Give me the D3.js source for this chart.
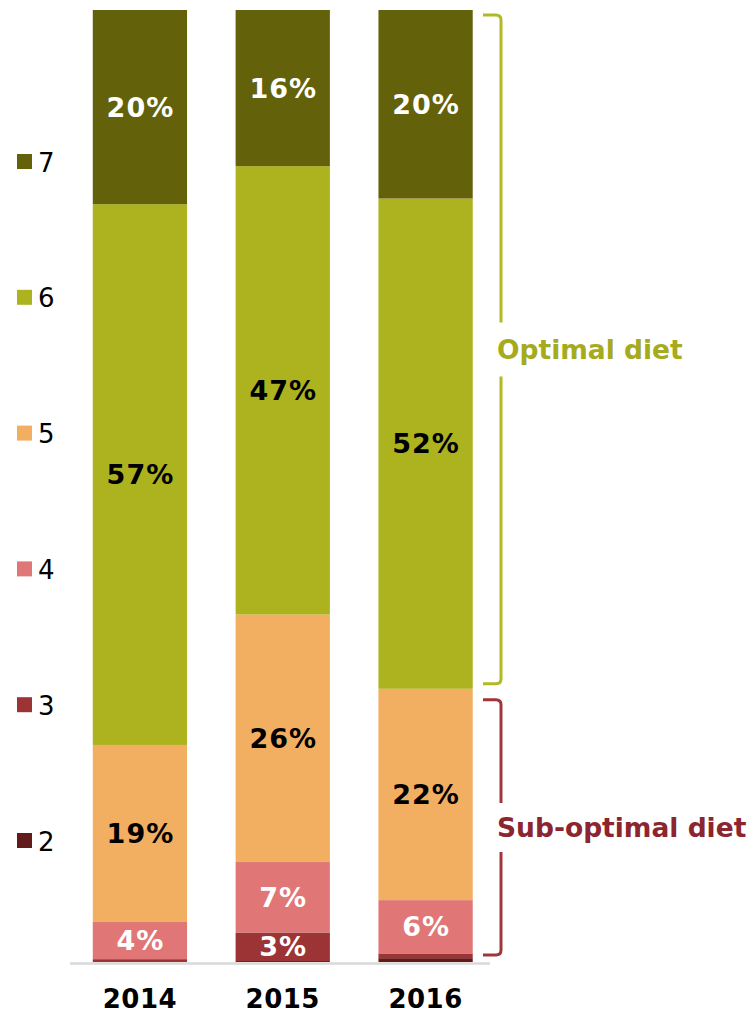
<!DOCTYPE html>
<html>
<head>
<meta charset="utf-8">
<script src="https://cdn.jsdelivr.net/npm/d3@7/dist/d3.min.js"></script>
<style>
  body { margin: 0; background: #fff; }
  svg { display: block; font-family: Verdana, "DejaVu Sans", sans-serif; }
</style>
</head>
<body>
<svg width="750" height="1014"></svg>
<script>
var years = ["2014", "2015", "2016"];
var levels = ["2", "3", "4", "5", "6", "7"];   // bottom to top
var colors = ["#621b1b", "#9c3335", "#e07676", "#f2ae61", "#adb31e", "#636109"];
var labelColors = ["#fff", "#fff", "#fff", "#000", "#000", "#fff"];

// share (%) of each level per year, order follows levels
var values2014 = [0.0, 0.3, 3.9, 18.6, 56.8, 20.4];
var values2015 = [0.1, 3.0, 7.4, 26.0, 47.1, 16.4];
var values2016 = [0.4, 0.5, 5.6, 22.2, 51.5, 19.8];
var valuesByYear = [values2014, values2015, values2016];

var groups = [
  {name: "Optimal diet", from: "6", to: "7", color: "#b3b924", text: "#a5ab1d"},
  {name: "Sub-optimal diet", from: "2", to: "5", color: "#a0363a", text: "#8b2530"}
];

var svg = d3.select("svg");

var x = d3.scaleBand().domain(years).range([68.5, 497]).paddingInner(0.34).paddingOuter(0.17);
var y = d3.scaleLinear().domain([0, 100]).range([962, 10]);
var legendY = d3.scalePoint().domain(levels.slice().reverse()).range([161.5, 840.5]);

// stack the data
var rows = years.map(function(yr, i) {
  var r = {year: yr};
  levels.forEach(function(l, j) { r[l] = valuesByYear[i][j]; });
  return r;
});
var series = d3.stack().keys(levels)(rows);

// axis line
svg.append("line")
    .attr("x1", 70).attr("x2", 490)
    .attr("y1", y(0) + 1.5).attr("y2", y(0) + 1.5)
    .attr("stroke", "#d9d9d9")
    .attr("stroke-width", 2.5);

var layer = svg.selectAll(".layer")
  .data(series)
  .enter().append("g")
    .attr("class", "layer")
    .attr("fill", function(d, i) { return colors[i]; });

layer.selectAll("rect")
  .data(function(d) { return d; })
  .enter().append("rect")
    .attr("x", function(d) { return x(d.data.year); })
    .attr("width", x.bandwidth())
    .attr("y", function(d) { return y(d[1]); })
    .attr("height", function(d) { return y(d[0]) - y(d[1]); });

// percent labels
layer.each(function(s, i) {
  d3.select(this).selectAll("text")
    .data(s.filter(function(d) { return d[1] - d[0] >= 2; }))
    .enter().append("text")
      .attr("x", function(d) { return x(d.data.year) + x.bandwidth() / 2 + 0.5; })
      .attr("y", function(d) { return (y(d[0]) + y(d[1])) / 2; })
      .attr("dy", "0.36em")
      .attr("text-anchor", "middle")
      .attr("fill", labelColors[i])
      .style("font-size", "27px")
      .style("font-weight", "bold")
      .style("letter-spacing", "1px")
      .text(function(d) { return Math.round(d[1] - d[0]) + "%"; });
});

// x axis labels
svg.append("g")
  .selectAll("text")
  .data(years)
  .enter().append("text")
    .attr("x", function(d) { return x(d) + x.bandwidth() / 2; })
    .attr("y", 1008)
    .attr("text-anchor", "middle")
    .style("font-size", "26px")
    .style("font-weight", "bold")
    .style("letter-spacing", "0.5px")
    .text(function(d) { return d; });

// legend
var legend = svg.append("g")
  .selectAll("g")
  .data(levels)
  .enter().append("g")
    .attr("transform", function(d) { return "translate(17," + legendY(d) + ")"; });

legend.append("rect")
    .attr("y", -7.5)
    .attr("width", 15)
    .attr("height", 15)
    .attr("fill", function(d, i) { return colors[i]; });

legend.append("text")
    .attr("x", 21)
    .attr("y", 10)
    .style("font-size", "26px")
    .text(function(d) { return d; });

// brackets for 2016
var last = series.map(function(s) { return s[s.length - 1]; });
var bx0 = 483, bx1 = 501, rad = 5;

groups.forEach(function(g, gi) {
  var top = y(last[levels.indexOf(g.to)][1]) + (gi === 0 ? 5 : 11);
  var bottom = y(last[levels.indexOf(g.from)][0]) - (gi === 0 ? 5 : 7);
  var mid = (top + bottom) / 2;
  var gap = gi === 0 ? 27 : 24.5;

  var path = "M" + bx0 + "," + top + "H" + (bx1 - rad) +
    "Q" + bx1 + "," + top + " " + bx1 + "," + (top + rad) +
    "V" + (mid - gap) +
    "M" + bx1 + "," + (mid + gap) +
    "V" + (bottom - rad) +
    "Q" + bx1 + "," + bottom + " " + (bx1 - rad) + "," + bottom +
    "H" + bx0;

  svg.append("path")
      .attr("d", path)
      .attr("fill", "none")
      .attr("stroke", g.color)
      .attr("stroke-width", 3);

  svg.append("text")
      .attr("x", 497)
      .attr("y", mid)
      .attr("dy", "0.36em")
      .attr("fill", g.text)
      .style("font-size", "26.5px")
      .style("font-weight", "bold")
      .text(g.name);
});
</script>
</body>
</html>
